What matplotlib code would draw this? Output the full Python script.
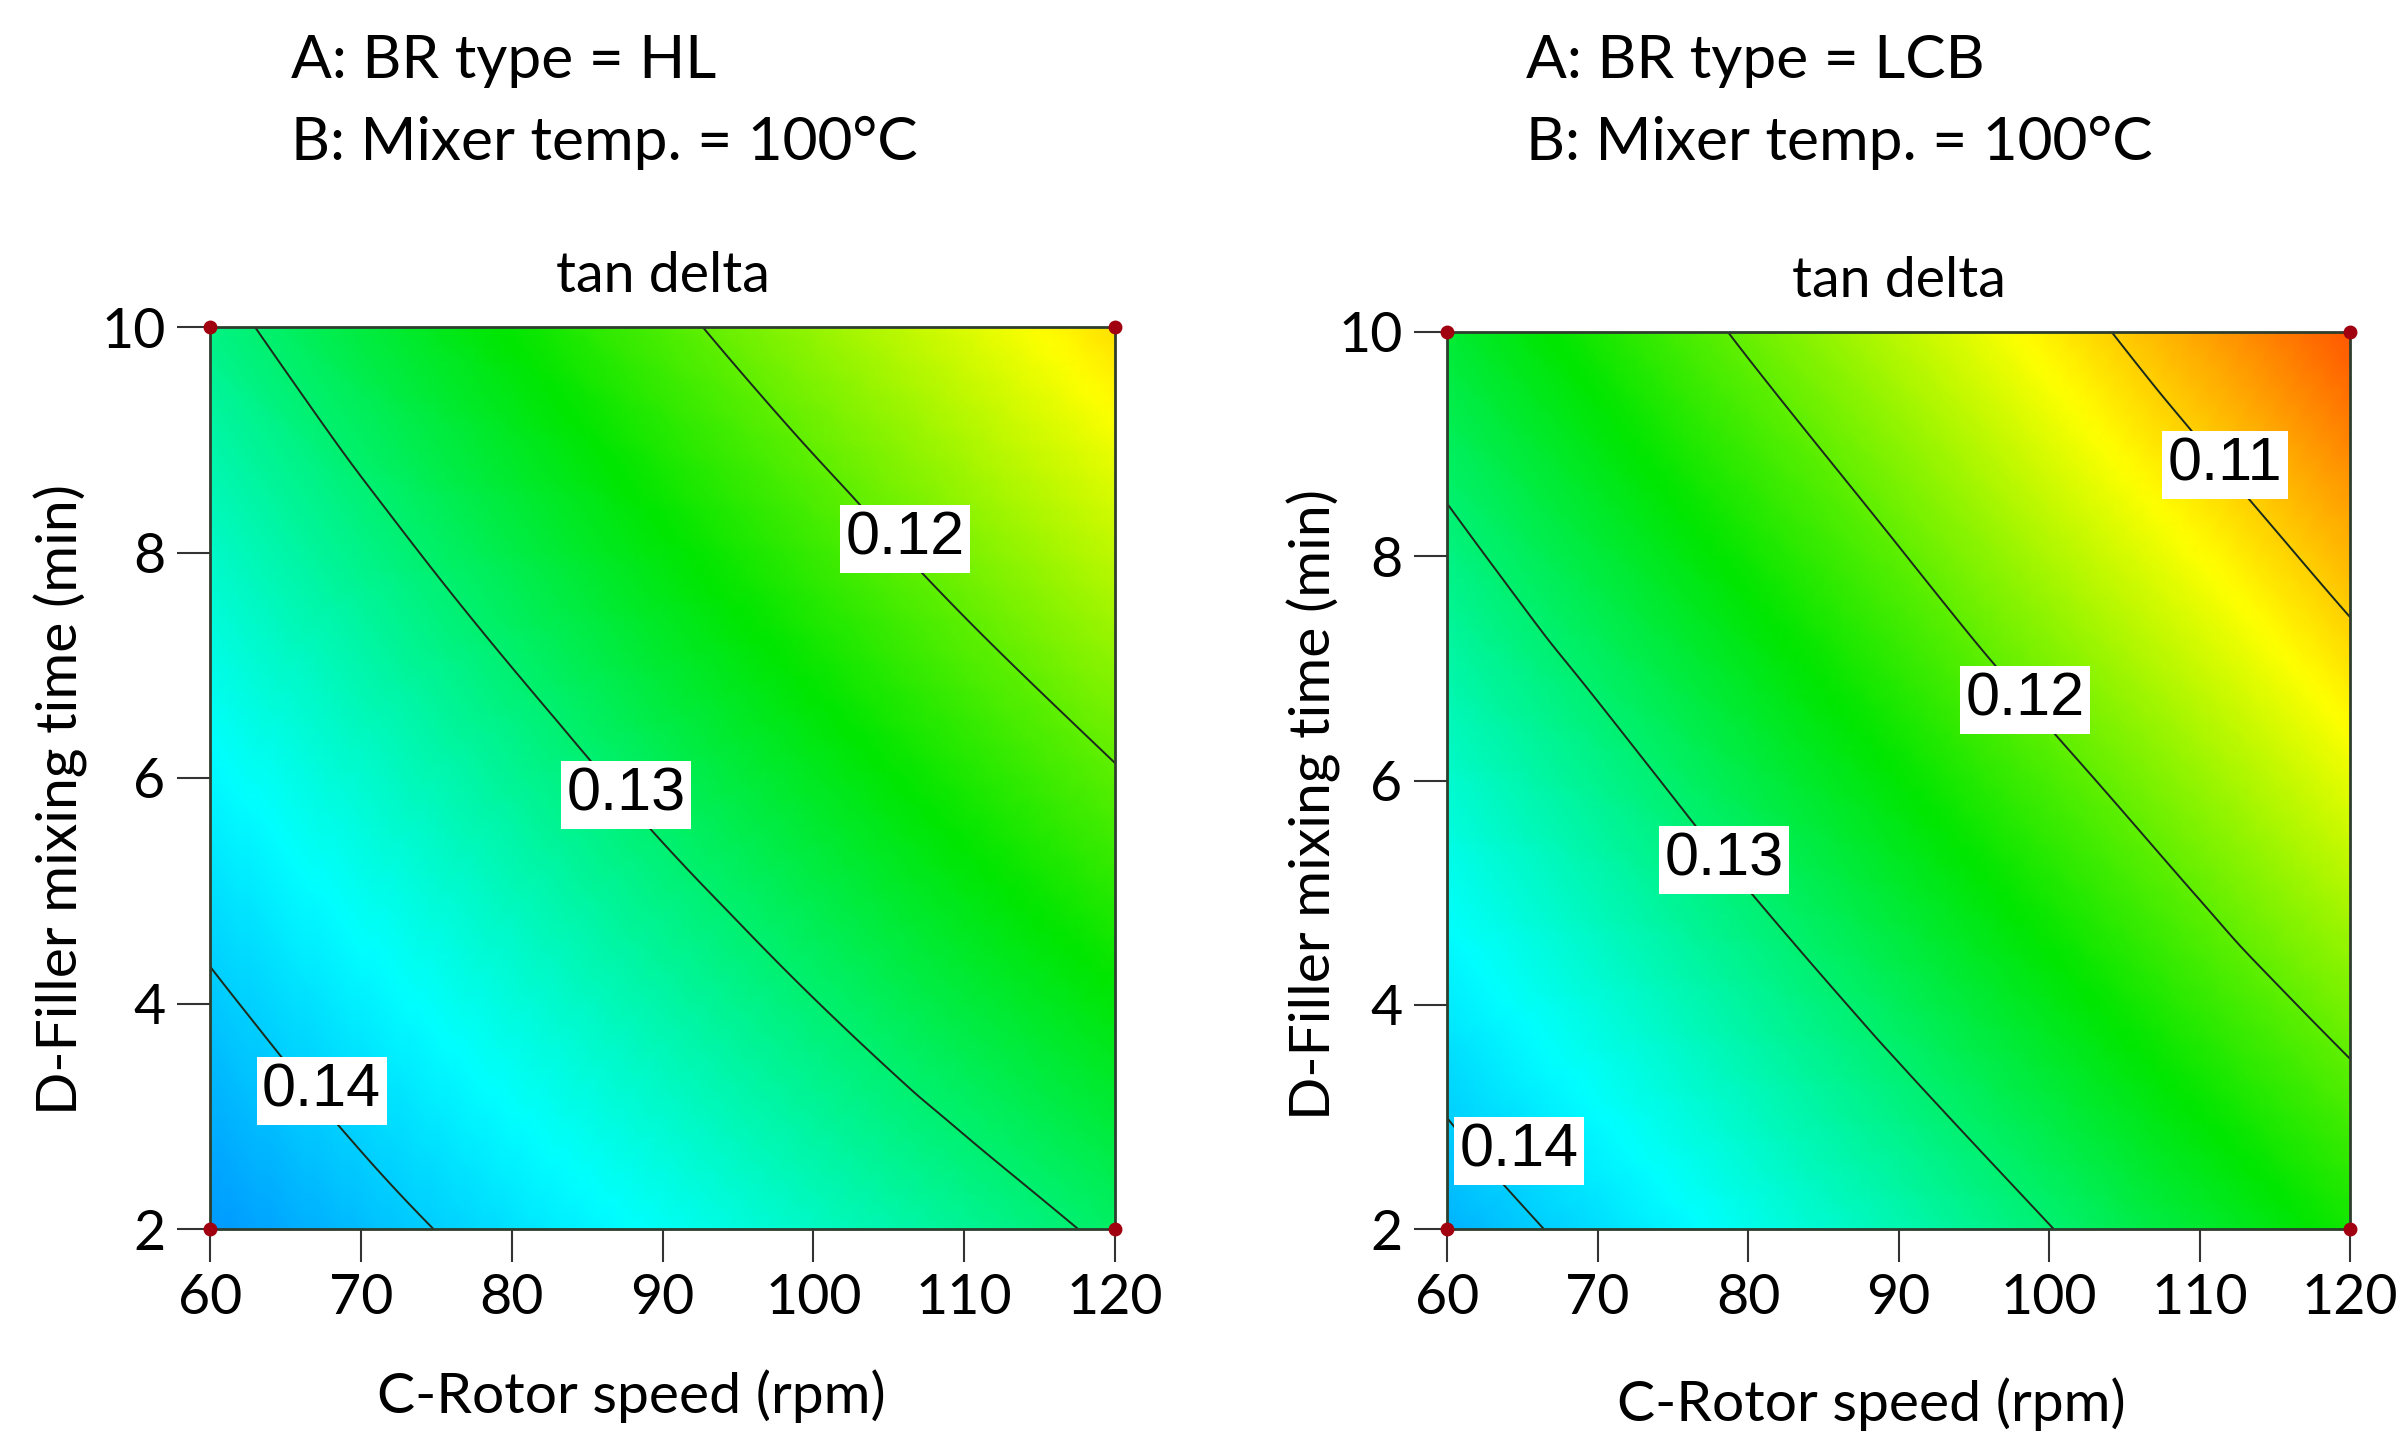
import numpy as np
import matplotlib
matplotlib.use("Agg")
import matplotlib.pyplot as plt
import matplotlib.tri as mtri
from matplotlib.colors import LinearSegmentedColormap, Normalize

# grid (rows: mixing time, cols: rotor speed)
rotor_speed = [60, 70, 80, 90, 100, 110, 120]
mixing_time = [2, 4, 6, 8, 10]

tan_delta_hl = [
    [0.1435, 0.1411, 0.1388, 0.1365, 0.1341, 0.1318, 0.1294],
    [0.1405, 0.1379, 0.1353, 0.1327, 0.1301, 0.1275, 0.1249],
    [0.1374, 0.1346, 0.1318, 0.1289, 0.1261, 0.1232, 0.1203],
    [0.1343, 0.1312, 0.1281, 0.1250, 0.1219, 0.1187, 0.1156],
    [0.1310, 0.1276, 0.1243, 0.1209, 0.1175, 0.1142, 0.1108],
]
tan_delta_lcb = [
    [0.1418, 0.1390, 0.1361, 0.1332, 0.1301, 0.1269, 0.1237],
    [0.1382, 0.1352, 0.1321, 0.1289, 0.1256, 0.1222, 0.1188],
    [0.1346, 0.1314, 0.1280, 0.1246, 0.1211, 0.1175, 0.1137],
    [0.1309, 0.1274, 0.1238, 0.1202, 0.1164, 0.1126, 0.1086],
    [0.1270, 0.1233, 0.1195, 0.1157, 0.1117, 0.1076, 0.1034],
]
levels_hl = [0.12, 0.13, 0.14]
levels_lcb = [0.11, 0.12, 0.13, 0.14]

# design points (corners)
design_speed = [60, 120, 60, 120]
design_time = [2, 2, 10, 10]

W, H = 2405, 1445
plt.rcParams['font.family'] = ['Lato', 'DejaVu Sans']

vmin, vmax = 0.100, 0.150
anchors = [(0.100, (1.0, 0.1, 0.0)), (0.1125, (1.0, 1.0, 0.0)),
           (0.1245, (0.0, 0.9, 0.0)), (0.137, (0.0, 1.0, 1.0)),
           (0.150, (0.0, 0.2, 1.0))]
cmap = LinearSegmentedColormap.from_list(
    'de', [((v - vmin) / (vmax - vmin), c) for v, c in anchors])
norm = Normalize(vmin, vmax)

X, Y = np.meshgrid(rotor_speed, mixing_time)


def draw_panel(ax, td, levels, label_pos):
    z = np.array(td, dtype=float).ravel()
    tri = mtri.Triangulation(X.ravel().astype(float), Y.ravel().astype(float))
    interp = mtri.CubicTriInterpolator(tri, z, kind='geom')
    tri_f, z_f = mtri.UniformTriRefiner(tri).refine_field(z, triinterpolator=interp, subdiv=4)
    ax.tripcolor(tri_f, z_f, cmap=cmap, norm=norm, shading='gouraud', rasterized=True)
    cs = ax.tricontour(tri_f, z_f, levels=levels, colors='#1c2a1c', linewidths=1.4)
    texts = ax.clabel(cs, levels, fmt='%.2f', manual=label_pos, inline=False, fontsize=44, colors='black')
    for t, p in zip(texts, label_pos):
        t.set_position(p)
        t.set_rotation(0)
        t.set_fontfamily('Liberation Sans')
        t.set_bbox(dict(facecolor='white', edgecolor='none', pad=4))
        t.set_zorder(6)
    ax.plot(design_speed, design_time, 'o', color='#a0000f', ms=9, clip_on=False, zorder=7)
    ax.set_xlim(60, 120)
    ax.set_ylim(2, 10)
    ax.set_xticks([60, 70, 80, 90, 100, 110, 120])
    ax.set_yticks([2, 4, 6, 8, 10])
    ax.tick_params(direction='out', length=24, width=1.5, color='#333333', labelsize=40, pad=8)
    ax.tick_params(axis='x', pad=8)
    for s in ax.spines.values():
        s.set_color('#2e3d2e')
        s.set_linewidth(2)
    ax.text(0.5, 1.056, 'tan delta', transform=ax.transAxes, ha='center', va='center', fontsize=40)
    ax.set_xlabel('C-Rotor speed (rpm)', fontsize=41)
    ax.set_ylabel('D-Filler mixing time (min)', fontsize=41)


fig = plt.figure(figsize=(W / 100, H / 100), dpi=100)
ax_l = fig.add_axes([210 / W, 1 - 1229 / H, 905 / W, 902 / H])
ax_r = fig.add_axes([1447 / W, 1 - 1229 / H, 903 / W, 897 / H])

draw_panel(ax_l, tan_delta_hl, levels_hl, [(106.1, 8.12), (87.6, 5.85), (67.4, 3.22)])
draw_panel(ax_r, tan_delta_lcb, levels_lcb, [(111.7, 8.81), (98.4, 6.72), (78.4, 5.29), (64.8, 2.70)])

ax_l.xaxis.set_label_coords(0.466, -0.155)
ax_l.yaxis.set_label_coords(-0.135, 0.476)
ax_r.xaxis.set_label_coords(0.47, -0.165)
ax_r.yaxis.set_label_coords(-0.117, 0.473)

fig.text(291 / W, 1 - 61 / H, 'A: BR type = HL', fontsize=43.5, va='center', ha='left')
fig.text(291 / W, 1 - 143 / H, 'B: Mixer temp. = 100°C', fontsize=43.5, va='center', ha='left')
fig.text(1526 / W, 1 - 61 / H, 'A: BR type = LCB', fontsize=43.5, va='center', ha='left')
fig.text(1526 / W, 1 - 143 / H, 'B: Mixer temp. = 100°C', fontsize=43.5, va='center', ha='left')

fig.savefig('out.png', dpi=100)
